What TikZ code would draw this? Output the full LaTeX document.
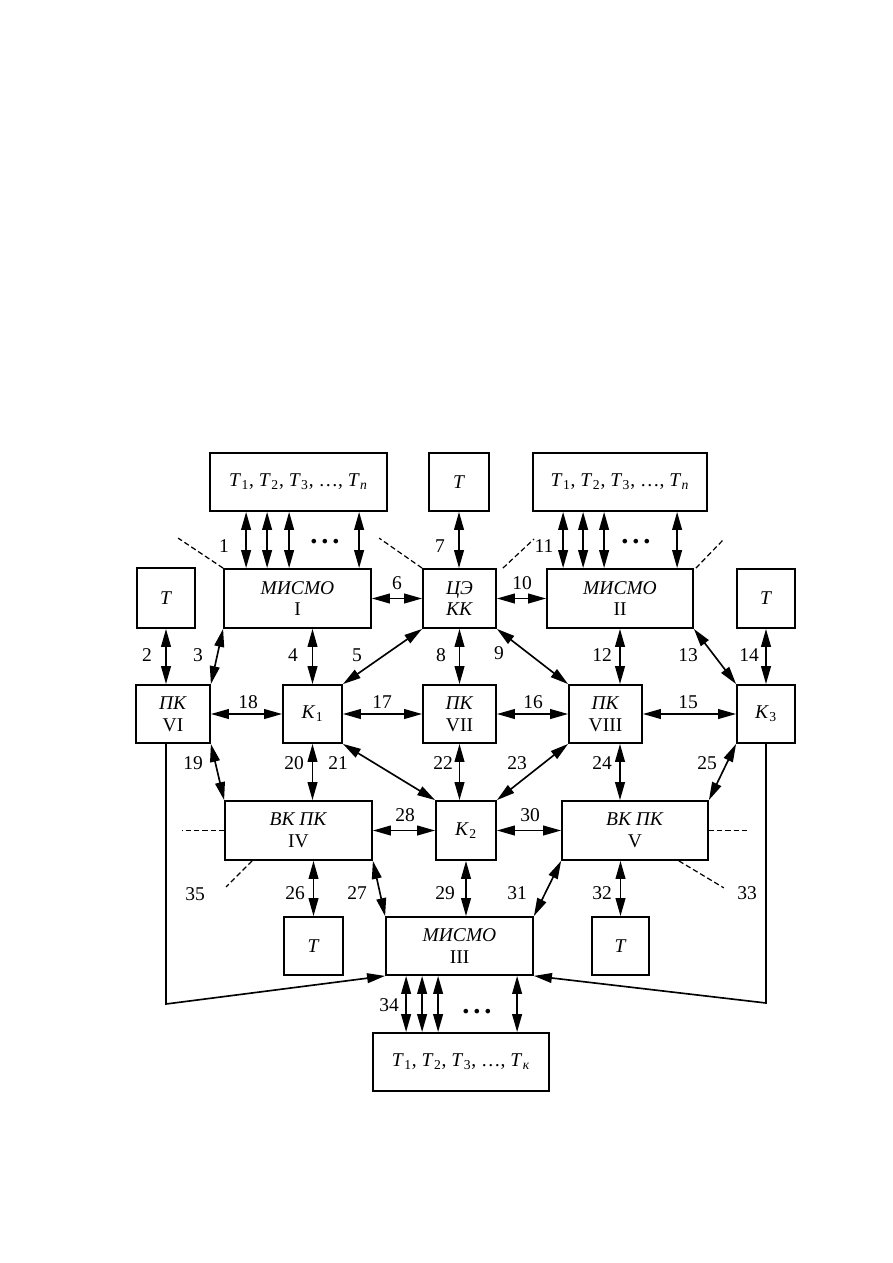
\documentclass[tikz,border=0pt]{standalone}
\usepackage{fontspec}
\setmainfont{Liberation Serif}
\usetikzlibrary{arrows.meta,calc}
\newcommand\pxu{0.6667pt}
\newcommand\Tsub[1]{\textit{T}\kern0.3pt\textsubscript{#1}}
\newcommand\Ksub[1]{\textit{K}\kern0.3pt\textsubscript{#1}}
\newcommand\dotsrow{\fontsize{19}{19}\selectfont\textbf{.\hspace{2.6pt}.\hspace{2.6pt}.}}
\begin{document}
\begin{tikzpicture}[x=0.6667pt,y=-0.6667pt,
  bx/.style 2 args={draw, line width=1.2pt, minimum width=#1*\pxu, minimum height=#2*\pxu, inner sep=0pt, align=center, font=\fontsize{13}{14.5}\selectfont},
  arr/.style={{Triangle[length=12pt,width=6.5pt]}-{Triangle[length=12pt,width=6.5pt]}, line width=1.1pt},
  one/.style={-{Triangle[length=12pt,width=6.5pt]}, line width=1.1pt},
  num/.style={inner sep=0pt, font=\fontsize{13}{14}\selectfont},
  dsh/.style={line width=0.8pt, dash pattern=on 3.5pt off 2pt}]
\useasboundingbox (0,0) rectangle (893,1263);

% boxes
\node[bx={177}{58}] (tA) at (298.5,482) {\Tsub{1}, \Tsub{2}, \Tsub{3}, \dots, \Tsub{\textit{n}}};
\node[bx={60}{58}]  (tB) at (459,482) {\textit{T}};
\node[bx={174}{58}] (tC) at (620,482) {\Tsub{1}, \Tsub{2}, \Tsub{3}, \dots, \Tsub{\textit{n}}};
\node[bx={58}{60}]  (tL) at (166,598) {\textit{T}};
\node[bx={147}{59}] (m1) at (297.5,598.5) {\textit{МИСМО}\\I};
\node[bx={73}{59}]  (ce) at (459.5,598.5) {\textit{ЦЭ}\\\textit{КК}};
\node[bx={146}{59}] (m2) at (620,598.5) {\textit{МИСМО}\\II};
\node[bx={58}{59}]  (tR) at (766,598.5) {\textit{T}};
\node[bx={74}{58}]  (pk6) at (173,714) {\textit{ПК}\\VI};
\node[bx={59}{58}]  (k1) at (312.5,714) {\Ksub{1}};
\node[bx={73}{58}]  (pk7) at (459.5,714) {\textit{ПК}\\VII};
\node[bx={73}{58}]  (pk8) at (605.5,714) {\textit{ПК}\\VIII};
\node[bx={58}{58}]  (k3) at (766,714) {\Ksub{3}};
\node[bx={147}{59}] (vk4) at (298.5,830.5) {\textit{ВК ПК}\\IV};
\node[bx={60}{59}]  (k2) at (466,830.5) {\Ksub{2}};
\node[bx={146}{59}] (vk5) at (635,830.5) {\textit{ВК ПК}\\V};
\node[bx={59}{58}]  (tBL) at (313.5,946) {\textit{T}};
\node[bx={147}{58}] (m3) at (459.5,946) {\textit{МИСМО}\\III};
\node[bx={57}{58}]  (tBR) at (620.5,946) {\textit{T}};
\node[bx={176}{58}] (tK) at (461,1062) {\Tsub{1}, \Tsub{2}, \Tsub{3}, \dots, \Tsub{\textit{к}}};

% multi arrows
\foreach \d [count=\i] in {37,58,80,150} {
  \coordinate (a\i) at ($(tA.south west)+(\d,0)$);
  \draw[arr] (a\i) -- (a\i |- m1.north);
}
\foreach \d [count=\i] in {31,51,72,145} {
  \coordinate (b\i) at ($(tC.south west)+(\d,0)$);
  \draw[arr] (b\i) -- (b\i |- m2.north);
}
\foreach \d [count=\i] in {34,50,66,145} {
  \coordinate (c\i) at ($(tK.north west)+(\d,0)$);
  \draw[arr] (c\i |- m3.south) -- (c\i);
}
\node[num] (dA) at (325,542) {\dotsrow};
\node[num] (dC) at (636,542) {\dotsrow};
\node[num] (dK) at (477,1012) {\dotsrow};

% vertical arrows
\draw[arr] (tB.south) -- (tB.south |- ce.north);
\draw[arr] (tL.south) -- (tL.south |- pk6.north);
\draw[arr] (k1.north |- m1.south) -- (k1.north);
\draw[arr] (ce.south) -- (ce.south |- pk7.north);
\draw[arr] (m2.south) -- (m2.south |- pk8.north);
\draw[arr] (tR.south) -- (k3.north);
\draw[arr] (k1.south) -- (k1.south |- vk4.north);
\draw[arr] (pk7.south) -- (pk7.south |- k2.north);
\draw[arr] (m2.south |- pk8.south) -- (m2.south |- vk5.north);
\draw[arr] (tBL.north |- vk4.south) -- (tBL.north);
\draw[arr] (k2.south) -- (k2.south |- m3.north);
\draw[arr] (tBR.north |- vk5.south) -- (tBR.north);

% horizontal arrows
\draw[arr] (m1.east) -- (ce.west);
\draw[arr] (ce.east) -- (m2.west);
\draw[arr] (pk6.east) -- (k1.west);
\draw[arr] (k1.east) -- (pk7.west);
\draw[arr] (pk7.east) -- (pk8.west);
\draw[arr] (pk8.east) -- (k3.west);
\draw[arr] (vk4.east) -- (k2.west);
\draw[arr] (k2.east) -- (vk5.west);

% diagonal arrows
\draw[arr] (pk6.north east) -- (m1.south west);
\draw[arr] (k1.north east) -- (ce.south west);
\draw[arr] (ce.south east) -- (pk8.north west);
\draw[arr] (m2.south east) -- (k3.north west);
\draw[arr] (pk6.south east) -- (vk4.north west);
\draw[arr] (k1.south east) -- (k2.north west);
\draw[arr] (pk8.south west) -- (k2.north east);
\draw[arr] (k3.south west) -- (vk5.north east);
\draw[arr] (vk4.south east) -- (m3.north west);
\draw[arr] (vk5.south west) -- (m3.north east);

% long lines
\coordinate (cL) at (166,1004);
\coordinate (cR) at (766,1003);
\draw[one] (cL |- pk6.south) -- (cL) -- (m3.south west);
\draw[one] (k3.south) -- (cR) -- (m3.south east);

% dashed lines
\draw[dsh] (m1.north west) -- ++(-45,-30);
\draw[dsh] (ce.north west) -- ++(-43,-30);
\draw[dsh] ([xshift=6*\pxu]ce.north east) -- ++(31,-29);
\draw[dsh] ([xshift=2*\pxu]m2.north east) -- ++(28,-29);
\draw[dsh] (vk4.west) -- ++(-42,0);
\draw[dsh] (vk5.east) -- ++(39,0);
\draw[dsh] ([xshift=28*\pxu]vk4.south west) -- ++(-26,26);
\draw[dsh] ([xshift=-30*\pxu]vk5.south east) -- ++(45,27);

% number labels
\foreach \n/\x/\y in {1/224/546, 2/147/655, 3/198/655, 4/293/655, 5/357/655,
  6/397/583, 7/440/546, 8/441/655, 9/499/653, 10/522/583, 11/544/546,
  12/602/655, 13/688/655, 14/749/655, 15/688/702, 16/533/702, 17/382/702,
  18/248/702, 19/193/763, 20/294/763, 21/338/763, 22/443/763, 23/517/763,
  24/602/763, 25/707/763, 26/295/893, 27/357/893, 28/405/815, 29/445/893,
  30/530/815, 31/517/893, 32/602/893, 33/747/893, 34/389/1005, 35/195/894}
  \node[num] (l\n) at (\x,\y) {\n};
\end{tikzpicture}
\end{document}
